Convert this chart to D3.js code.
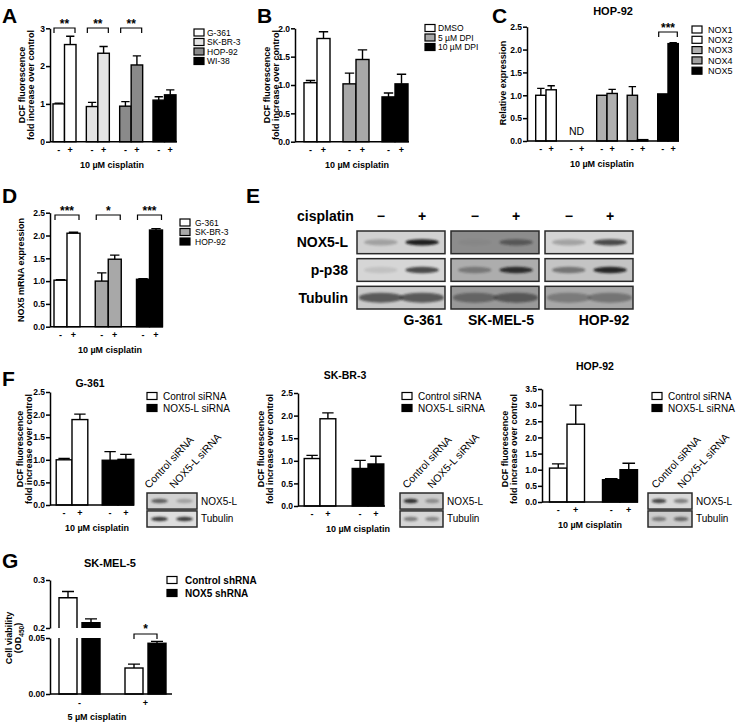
<!DOCTYPE html>
<html><head><meta charset="utf-8">
<script src="https://cdn.jsdelivr.net/npm/d3@7"></script>
<style>body{margin:0;background:#fff}svg{display:block}</style>
</head><body><svg id="c" width="743" height="723"></svg>
<script>
// ---------------- DATA ----------------
// Panel A
const aGroups = ["G-361", "SK-BR-3", "HOP-92", "WI-38"];
const aMinus = [1.00, 0.93, 0.94, 1.10];
const aMinusErr = [0.02, 0.11, 0.12, 0.09];
const aPlus = [2.57, 2.34, 2.03, 1.24];
const aPlusErr = [0.22, 0.18, 0.24, 0.13];
const aSig = ["**", "**", "**", null];
// Panel B
const bGroups = ["DMSO", "5 \u00b5M DPI", "10 \u00b5M DPI"];
const bMinus = [1.04, 1.02, 0.79];
const bMinusErr = [0.04, 0.19, 0.07];
const bPlus = [1.82, 1.45, 1.02];
const bPlusErr = [0.12, 0.17, 0.17];
// Panel C (HOP-92), NOX2 not detected
const cGroups = ["NOX1", "NOX2", "NOX3", "NOX4", "NOX5"];
const cMinus = [1.00, null, 1.00, 1.00, 1.03];
const cMinusErr = [0.15, null, 0.0, 0.19, 0.0];
const cPlus = [1.12, null, 1.04, 0.03, 2.13];
const cPlusErr = [0.09, null, 0.09, 0.0, 0.02];
const cSig = [null, null, null, null, "***"];
// Panel D
const dGroups = ["G-361", "SK-BR-3", "HOP-92"];
const dMinus = [1.02, 1.00, 1.04];
const dMinusErr = [0.01, 0.18, 0.01];
const dPlus = [2.05, 1.48, 2.12];
const dPlusErr = [0.02, 0.09, 0.03];
const dSig = ["***", "*", "***"];
// Panel E western blots
const eCellLines = ["G-361", "SK-MEL-5", "HOP-92"];
const eProteins = ["NOX5-L", "p-p38", "Tubulin"];
const eLanes = ["\u2212", "+"];
const eBackground = [[0.82, 0.55, 0.83], [0.84, 0.68, 0.77], [0.79, 0.60, 0.66]];
const eBands = [
  [[0.25, 0.95], [0.04, 0.45], [0.25, 0.72]],
  [[0.10, 0.72], [0.35, 0.85], [0.45, 0.90]],
  [[0.62, 0.62], [0.40, 0.50], [0.30, 0.35]]
];
// Panel F
const fGroups = ["Control siRNA", "NOX5-L siRNA"];
const fTitles = ["G-361", "SK-BR-3", "HOP-92"];
const fMinus = [[1.00, 0.99], [1.05, 0.83], [1.05, 0.69]];
const fMinusErr = [[0.03, 0.19], [0.07, 0.18], [0.13, 0.03]];
const fPlus = [[1.89, 1.01], [1.93, 0.93], [2.41, 1.00]];
const fPlusErr = [[0.12, 0.11], [0.13, 0.17], [0.59, 0.20]];
const fYMax = [2.5, 2.5, 3.5];
const fBlotProteins = ["NOX5-L", "Tubulin"];
const fBlotBackground = [[0.82, 0.87], [0.80, 0.84], [0.85, 0.80]];
const fBlotBands = [
  [[0.60, 0.25], [0.80, 0.80]],
  [[0.85, 0.35], [0.45, 0.40]],
  [[0.75, 0.45], [0.45, 0.55]]
];
// Panel G (broken axis)
const gGroups = ["-", "+"];
const gSeries = ["Control shRNA", "NOX5 shRNA"];
const gControl = [0.263, 0.0232];
const gControlErr = [0.013, 0.0035];
const gNox5 = [0.211, 0.0453];
const gNox5Err = [0.008, 0.0017];

// ---------------- DRAWING ----------------
const FONT = "'Liberation Sans', Arial, Helvetica, sans-serif";
const svg = d3.select("#c");
const defs = svg.append("defs");
defs.append("filter").attr("id", "blur").attr("x", "-50%").attr("y", "-100%").attr("width", "200%").attr("height", "300%")
  .append("feGaussianBlur").attr("stdDeviation", 1.3);

function txt(x, y, s, size, weight, anchor) {
  return svg.append("text").attr("x", x).attr("y", y).text(s)
    .attr("font-family", FONT).attr("font-size", size)
    .attr("font-weight", weight || "normal").attr("text-anchor", anchor || "start").attr("fill", "#000");
}
function vlabel(lines, xs, cy, size) {
  lines.forEach((t, i) => {
    svg.append("text").attr("transform", `translate(${xs[i]},${cy}) rotate(-90)`)
      .attr("text-anchor", "middle").attr("font-family", FONT).attr("font-size", size)
      .attr("font-weight", "bold").text(t);
  });
}
function legend(labels, fills, bx, ys, tx, size, weight) {
  labels.forEach((l, i) => {
    svg.append("rect").attr("x", bx).attr("y", ys[i] - 3.5).attr("width", 10).attr("height", 7)
      .attr("fill", fills[i]).attr("stroke", "#000").attr("stroke-width", 1.2);
    txt(tx, ys[i] + size * 0.36, l, size, weight);
  });
}
function yAxis(scale, x, ticks, fmt) {
  const ax = svg.append("g").attr("transform", `translate(${x},0)`)
    .call(d3.axisLeft(scale).tickValues(ticks).tickFormat(fmt).tickSize(4).tickSizeOuter(0));
  ax.attr("font-family", FONT).attr("font-size", 8.5).attr("font-weight", "bold");
  ax.select(".domain").attr("stroke", "#000").attr("stroke-width", 1.5);
  ax.selectAll(".tick line").attr("stroke", "#000").attr("stroke-width", 1.5);
  ax.selectAll(".tick text").attr("fill", "#000").attr("x", -5);
  return ax;
}

function barChart(o) {
  const y = d3.scaleLinear().domain([0, o.max]).range([o.yb, o.yt]);
  const x = d3.scaleLinear().domain([0, o.groups.length - 1]).range(o.cRange);
  const bars = [];
  o.groups.forEach((name, i) => {
    bars.push({ i, lab: "-", v: o.minus[i], e: o.minusErr[i], x: x(i) - o.w, fill: o.fills[i] });
    bars.push({ i, lab: "+", v: o.plus[i], e: o.plusErr[i], x: x(i), fill: o.fills[i] });
  });
  const drawn = bars.filter(b => b.v != null);
  const g = svg.append("g");
  g.selectAll("rect").data(drawn).join("rect")
    .attr("x", b => b.x).attr("y", b => y(b.v)).attr("width", o.w).attr("height", b => y(0) - y(b.v))
    .attr("fill", b => b.fill).attr("stroke", "#000").attr("stroke-width", 1.4);
  g.selectAll("path.err").data(drawn.filter(b => b.e > 0)).join("path").attr("class", "err")
    .attr("d", b => {
      const cx = b.x + o.w / 2, yt = y(b.v + b.e), yv = y(b.v), cw = o.w * 0.36;
      return `M${cx},${yv}V${yt}M${cx - cw},${yt}H${cx + cw}`;
    }).attr("stroke", "#000").attr("stroke-width", 1.4).attr("fill", "none");
  g.selectAll("text.xt").data(bars).join("text").attr("class", "xt")
    .attr("x", b => b.x + o.w / 2).attr("y", y(0) + 11).attr("text-anchor", "middle")
    .attr("font-family", FONT).attr("font-size", 9).attr("font-weight", "bold").text(b => b.lab);
  yAxis(y, o.axisX, o.ticks, o.fmt);
  g.append("line").attr("x1", o.axisX).attr("x2", o.xEnd).attr("y1", y(0)).attr("y2", y(0))
    .attr("stroke", "#000").attr("stroke-width", 1.5);
  if (o.sig) {
    o.sig.forEach((s, i) => {
      if (!s) return;
      const x1 = x(i) - o.w + 1, x2 = x(i) + o.w - 1, yb = o.sigY;
      g.append("path").attr("d", `M${x1},${yb + 5}V${yb}H${x2}V${yb + 5}`)
        .attr("stroke", "#000").attr("stroke-width", 1.2).attr("fill", "none");
      txt(x(i), yb - 0.5, s, 12, "bold", "middle");
    });
  }
  txt(o.labelX, y(0) + 26, "10 \u00b5M cisplatin", 9, "bold", "middle");
  return { x, y };
}

function blot(x, y, w, h, bg, bands, lanePos, bandW, bandH) {
  svg.append("rect").attr("x", x).attr("y", y).attr("width", w).attr("height", h)
    .attr("fill", d3.rgb(bg * 255, bg * 255, bg * 255)).attr("stroke", "#2a2a2a").attr("stroke-width", 1.5);
  const cl = svg.append("clipPath").attr("id", "cl" + Math.round(x) + "_" + Math.round(y));
  cl.append("rect").attr("x", x + 1).attr("y", y + 1).attr("width", w - 2).attr("height", h - 2);
  svg.append("g").attr("clip-path", `url(#${cl.attr("id")})`)
    .selectAll("ellipse").data(bands).join("ellipse")
    .attr("cx", (d, i) => x + w * lanePos[i]).attr("cy", y + h / 2)
    .attr("rx", w * bandW).attr("ry", bandH)
    .attr("fill", "#151515").attr("opacity", d => d).attr("filter", "url(#blur)");
}

// Panel letters
[["A", 2, 23], ["B", 257, 23], ["C", 492, 23], ["D", 2, 203], ["E", 246, 203], ["F", 2, 386], ["G", 2, 568]]
  .forEach(([l, x, y]) => txt(x, y, l, 21, "bold"));

// ----- Panel A -----
barChart({ groups: aGroups, minus: aMinus, minusErr: aMinusErr, plus: aPlus, plusErr: aPlusErr,
  fills: ["#ffffff", "#e4e4e4", "#8a8a8a", "#000000"], max: 3, yb: 141.7, yt: 28.3, cRange: [64.5, 164.5], w: 11.5,
  axisX: 50, xEnd: 177, ticks: [0, 1, 2, 3], fmt: d3.format("d"), sig: aSig, sigY: 28, labelX: 112 });
vlabel(["DCF fluorescence", "fold increase over control"], [25, 34], 85, 9);
legend(aGroups, ["#ffffff", "#e4e4e4", "#8a8a8a", "#000000"], 194, [32.5, 42, 51.5, 61], 207, 8.5);

// ----- Panel B -----
barChart({ groups: bGroups, minus: bMinus, minusErr: bMinusErr, plus: bPlus, plusErr: bPlusErr,
  fills: ["#ffffff", "#a8a8a8", "#000000"], max: 2, yb: 141.7, yt: 28.3, cRange: [317, 395], w: 13,
  axisX: 295, xEnd: 409, ticks: [0, 0.5, 1, 1.5, 2], fmt: d3.format(".1f"), labelX: 357 });
vlabel(["DCF fluorescence", "fold increase over control"], [270, 279], 85, 9);
legend(bGroups, ["#ffffff", "#a8a8a8", "#000000"], 425, [28, 37.5, 47], 438, 8.5);

// ----- Panel C -----
const cRes = barChart({ groups: cGroups, minus: cMinus, minusErr: cMinusErr, plus: cPlus, plusErr: cPlusErr,
  fills: ["#ffffff", "#ffffff", "#b0b0b0", "#a0a0a0", "#000000"], max: 2.5, yb: 141, yt: 26.7, cRange: [546, 668], w: 10.3,
  axisX: 527, xEnd: 679, ticks: [0, 0.5, 1, 1.5, 2, 2.5], fmt: d3.format(".1f"), sig: cSig, sigY: 32, labelX: 602 });
txt(cRes.x(1), 135, "ND", 10.5, "normal", "middle");
txt(613, 15, "HOP-92", 11, "bold", "middle");
vlabel(["Relative expression"], [506], 83, 9);
legend(cGroups, ["#ffffff", "#ffffff", "#b0b0b0", "#a0a0a0", "#000000"], 692, [29.5, 39.8, 50.1, 60.4, 70.7], 708, 9);

// ----- Panel D -----
barChart({ groups: dGroups, minus: dMinus, minusErr: dMinusErr, plus: dPlus, plusErr: dPlusErr,
  fills: ["#ffffff", "#a8a8a8", "#000000"], max: 2.5, yb: 326.7, yt: 212.7, cRange: [67, 149.5], w: 13,
  axisX: 50, xEnd: 163, ticks: [0, 0.5, 1, 1.5, 2, 2.5], fmt: d3.format(".1f"), sig: dSig, sigY: 215, labelX: 110 });
vlabel(["NOX5 mRNA expression"], [24], 270, 9);
legend(dGroups, ["#ffffff", "#a8a8a8", "#000000"], 180, [222.5, 232, 241.5], 195, 8.5);

// ----- Panel E -----
const eX = d3.scaleBand().domain(eCellLines).range([357, 633]).paddingInner(0.064);
const eY = d3.scaleBand().domain(eProteins).range([231, 309]).paddingInner(0.18);
const laneFrac = [0.27, 0.74];
eProteins.forEach((p, pi) => {
  eCellLines.forEach((c, ci) => {
    const tub = p === "Tubulin";
    blot(eX(c), eY(p), eX.bandwidth(), eY.bandwidth(), eBackground[pi][ci], eBands[pi][ci], laneFrac,
      tub ? 0.25 : 0.19, tub ? 5 : 3.2);
  });
  txt(348, eY(p) + eY.bandwidth() / 2 + 5, p, 14, "bold", "end");
});
txt(297, 221, "cisplatin", 14, "bold");
eCellLines.forEach((c, ci) => {
  eLanes.forEach((l, li) => txt(eX(c) + eX.bandwidth() * laneFrac[li], 221, l, 14, "bold", "middle"));
});
const eLabOff = [22, 6, 15];
eCellLines.forEach((c, ci) => txt(eX(c) + eX.bandwidth() / 2 + eLabOff[ci], 325, c, 14, "bold", "middle"));

// ----- Panel F -----
const fLayout = [
  { axisX: 50, yb: 505, yt: 392, cRange: [72, 118], w: 15.8, xEnd: 134, labelX: 97, title: [90, 387],
    ylx: [23, 31.5], legX: 147, blotX: 147, blotW: 50, rot: [149, 174] },
  { axisX: 298, yb: 506, yt: 393, cRange: [320, 368], w: 15.8, xEnd: 385, labelX: 358, title: [345, 379],
    ylx: [264, 273], legX: 402, blotX: 400, blotW: 43, rot: [407, 432] },
  { axisX: 542, yb: 502, yt: 389, cRange: [567, 620], w: 17.5, xEnd: 638, labelX: 590, title: [595, 370],
    ylx: [508, 517], legX: 652, blotX: 648, blotW: 44, rot: [656, 682] }
];
fLayout.forEach((L, k) => {
  const step = fYMax[k] === 3.5 ? d3.range(0, 3.51, 0.5) : d3.range(0, 2.51, 0.5);
  barChart({ groups: fGroups, minus: fMinus[k], minusErr: fMinusErr[k], plus: fPlus[k], plusErr: fPlusErr[k],
    fills: ["#ffffff", "#000000"], max: fYMax[k], yb: L.yb, yt: L.yt, cRange: L.cRange, w: L.w,
    axisX: L.axisX, xEnd: L.xEnd, ticks: step, fmt: d3.format(".1f"), labelX: L.labelX });
  txt(L.title[0], L.title[1], fTitles[k], 10.5, "bold", "middle");
  vlabel(["DCF fluorescence", "fold increase over control"], L.ylx, 449, 9);
  legend(fGroups, ["#ffffff", "#000000"], L.legX, [396, 408], L.legX + 16, 10);
  const fy = d3.scaleBand().domain(fBlotProteins).range([493, 527]).paddingInner(0.1);
  fBlotProteins.forEach((p, pi) => {
    blot(L.blotX, fy(p), L.blotW, fy.bandwidth(), fBlotBackground[k][pi], fBlotBands[k][pi], [0.25, 0.75], 0.17, 2.2);
    txt(L.blotX + L.blotW + 4, fy(p) + fy.bandwidth() / 2 + 3.5, p, 10);
  });
  fGroups.forEach((gname, gi) => {
    svg.append("text").attr("transform", `translate(${L.rot[gi]},489) rotate(-47)`)
      .attr("font-family", FONT).attr("font-size", 10.5).text(gname);
  });
});

// ----- Panel G (broken y axis) -----
const yU = d3.scaleLinear().domain([0.2, 0.3]).range([628, 580]);
const yL = d3.scaleLinear().domain([0, 0.05]).range([694, 638]);
const gx = d3.scaleLinear().domain([0, 1]).range([79.5, 145.5]);
const gw = 18;
const gBars = [];
gGroups.forEach((grp, i) => {
  gBars.push({ v: gControl[i], e: gControlErr[i], x: gx(i) - 20.5, fill: "#ffffff" });
  gBars.push({ v: gNox5[i], e: gNox5Err[i], x: gx(i) + 2.5, fill: "#000000" });
});
const gG = svg.append("g");
gBars.forEach(b => {
  const x1 = b.x, x2 = b.x + gw, cx = b.x + gw / 2;
  let topY, errY;
  if (b.v > 0.05) {
    gG.append("rect").attr("x", x1).attr("y", yL(0.05)).attr("width", gw).attr("height", yL(0) - yL(0.05)).attr("fill", b.fill);
    gG.append("path").attr("d", `M${x1},${yL(0.05)}V${yL(0)}H${x2}V${yL(0.05)}`).attr("stroke", "#000").attr("stroke-width", 1.4).attr("fill", "none");
    gG.append("rect").attr("x", x1).attr("y", yU(b.v)).attr("width", gw).attr("height", yU(0.2) - yU(b.v)).attr("fill", b.fill);
    gG.append("path").attr("d", `M${x1},${yU(0.2)}V${yU(b.v)}H${x2}V${yU(0.2)}`).attr("stroke", "#000").attr("stroke-width", 1.4).attr("fill", "none");
    topY = yU(b.v); errY = yU(b.v + b.e);
  } else {
    gG.append("rect").attr("x", x1).attr("y", yL(b.v)).attr("width", gw).attr("height", yL(0) - yL(b.v))
      .attr("fill", b.fill).attr("stroke", "#000").attr("stroke-width", 1.4);
    topY = yL(b.v); errY = yL(b.v + b.e);
  }
  gG.append("path").attr("d", `M${cx},${topY}V${errY}M${cx - 6},${errY}H${cx + 6}`)
    .attr("stroke", "#000").attr("stroke-width", 1.4).attr("fill", "none");
});
yAxis(yU, 50, [0.2, 0.3], d3.format(".1f"));
yAxis(yL, 50, [0, 0.05], d3.format(".2f"));
svg.append("line").attr("x1", 50).attr("x2", 172).attr("y1", yL(0)).attr("y2", yL(0)).attr("stroke", "#000").attr("stroke-width", 1.5);
gGroups.forEach((grp, i) => txt(gx(i), 706, grp, 9, "bold", "middle"));
txt(97, 720, "5 \u00b5M cisplatin", 9, "bold", "middle");
txt(110, 567, "SK-MEL-5", 11, "bold", "middle");
{
  const c1 = gx(1) - 20.5 + gw / 2, c2 = gx(1) + 2.5 + gw / 2, yb = 634;
  svg.append("path").attr("d", `M${c1},${yb + 5}V${yb}H${c2}V${yb + 5}`).attr("stroke", "#000").attr("stroke-width", 1.2).attr("fill", "none");
  txt((c1 + c2) / 2, 633, "*", 12, "bold", "middle");
}
vlabel(["Cell viability"], [12], 638, 9);
{
  const t = svg.append("text").attr("transform", "translate(21,638) rotate(-90)").attr("text-anchor", "middle")
    .attr("font-family", FONT).attr("font-size", 9).attr("font-weight", "bold");
  t.append("tspan").text("(OD");
  t.append("tspan").attr("font-size", 6.5).attr("dy", 2.5).text("450");
  t.append("tspan").attr("dy", -2.5).text(")");
}
legend(gSeries, ["#ffffff", "#000000"], 167, [580, 593], 185, 10, "bold");
</script>
</body></html>
